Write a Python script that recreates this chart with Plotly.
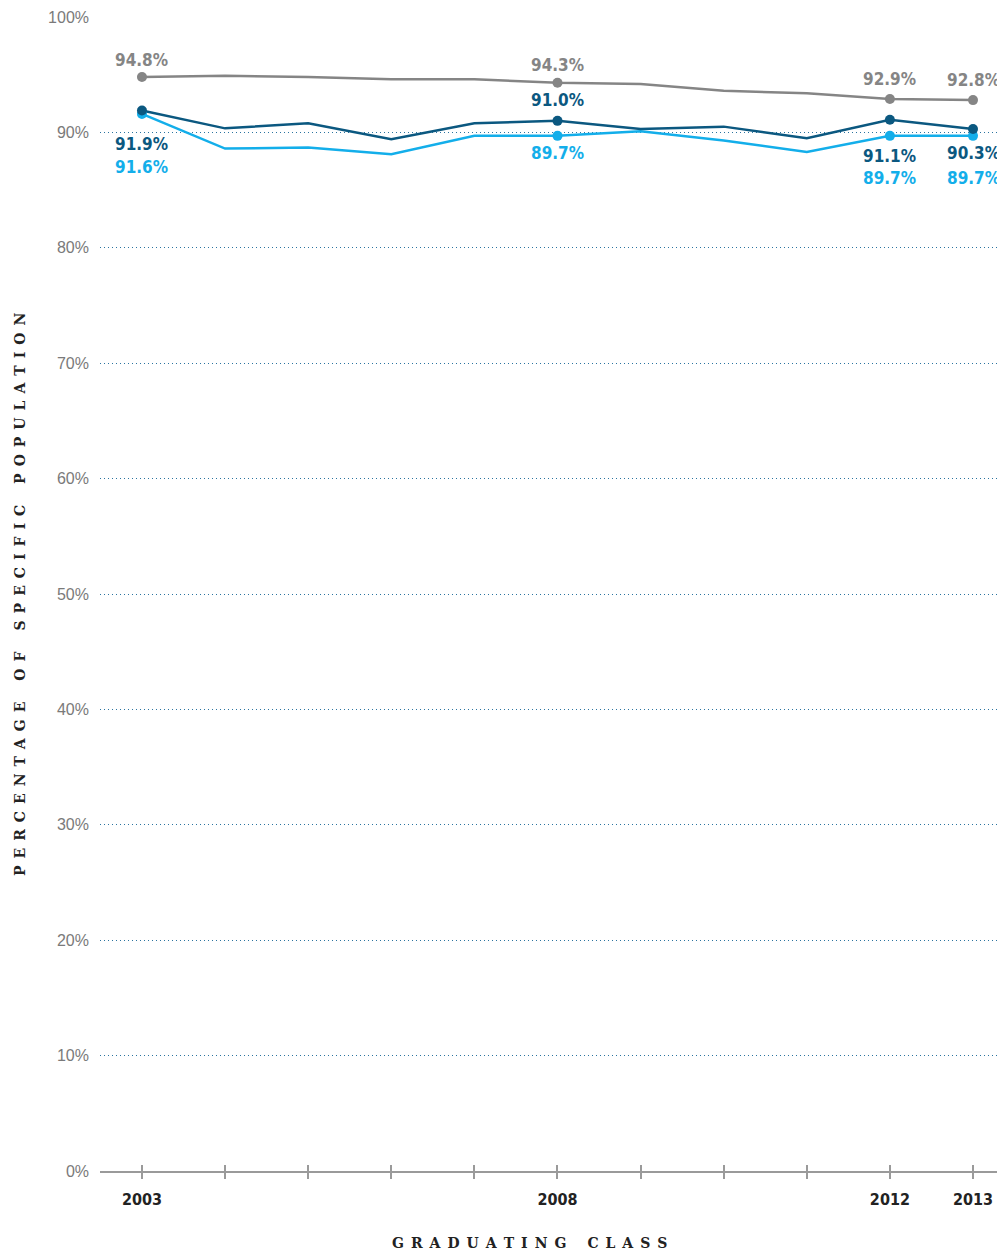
import plotly.graph_objects as go

years = [2003, 2004, 2005, 2006, 2007, 2008, 2009, 2010, 2011, 2012, 2013]
all_students = [94.8, 94.9, 94.8, 94.6, 94.6, 94.3, 94.2, 93.6, 93.4, 92.9, 92.8]
group_dark = [91.9, 90.35, 90.8, 89.4, 90.8, 91.0, 90.3, 90.5, 89.5, 91.1, 90.3]
group_light = [91.6, 88.6, 88.7, 88.1, 89.7, 89.7, 90.1, 89.3, 88.3, 89.7, 89.7]
labeled_years = [2003, 2008, 2012, 2013]
x_tick_text = ["2003", "", "", "", "", "2008", "", "", "", "2012", "2013"]
y_ticks = [0, 10, 20, 30, 40, 50, 60, 70, 80, 90, 100]
y_tick_text = ["0%", "10%", "20%", "30%", "40%", "50%", "60%", "70%", "80%", "90%", "100%"]

GRAY = "#858585"
DARK = "#0b5880"
LIGHT = "#13aeea"

# pixel offsets of value labels relative to their points (style only)
gray_shift = {2003: 17, 2008: 18, 2012: 20, 2013: 20}
dark_shift = {2003: -34, 2008: 21, 2012: -36, 2013: -24}
light_shift = {2003: -53, 2008: -17, 2012: -42, 2013: -42}

fig = go.Figure()
# drawing order: gray, light, dark (dark on top)
series = [(all_students, GRAY, gray_shift), (group_light, LIGHT, light_shift), (group_dark, DARK, dark_shift)]
annotations = []
label_font = "DejaVu Sans Condensed, Liberation Sans Narrow, Roboto"
for vals, col, shifts in series:
    fig.add_trace(go.Scatter(x=years, y=vals, mode="lines",
                             line=dict(color=col, width=2.5), hoverinfo="skip", showlegend=False))
for vals, col, shifts in series:
    mx = [y for y in years if y in labeled_years]
    my = [v for y, v in zip(years, vals) if y in labeled_years]
    fig.add_trace(go.Scatter(x=mx, y=my, mode="markers",
                             marker=dict(color=col, size=10), showlegend=False))
    for x, v in zip(mx, my):
        annotations.append(dict(x=x, y=v, xref="x", yref="y", text=f"{v:.1f}%",
                                showarrow=False, yshift=shifts[x],
                                font=dict(family=label_font, size=17, color=col, weight="bold")))

def spaced(s, gap="\u2002", wgap="\u2002\u2002\u2002"):
    return wgap.join(gap.join(list(w)) for w in s.split(" "))

title_font = dict(family="DejaVu Serif", size=14, color="#222222", weight="bold")
annotations.append(dict(x=0.475, y=-0.0624, xref="paper", yref="paper",
                        xanchor="center", yanchor="middle",
                        text=spaced("GRADUATING CLASS"), showarrow=False, font=title_font))
annotations.append(dict(x=-0.0884, y=0.5, xref="paper", yref="paper", textangle=-90,
                        xanchor="center", yanchor="middle",
                        text=spaced("PERCENTAGE OF SPECIFIC POPULATION"), showarrow=False,
                        font=title_font))

fig.add_trace(go.Scatter(x=[years[0]], y=[0], xaxis="x2", mode="markers",
                         marker=dict(opacity=0), showlegend=False, hoverinfo="skip"))

xrange = [2002.495, 2013.385]
fig.update_layout(
    width=997, height=1243,
    margin=dict(l=92, r=0, t=9, b=80),
    plot_bgcolor="white", paper_bgcolor="white",
    annotations=annotations,
    xaxis=dict(range=xrange, tickmode="array", tickvals=years, ticktext=x_tick_text,
               showgrid=False, zeroline=False,
               showline=True, linecolor="#9a9a9a", linewidth=2,
               ticks="outside", ticklen=6, tickwidth=1.5, tickcolor="#9a9a9a",
               tickfont=dict(family=label_font, size=16, color="#222222", weight="bold"),
               ticklabelstandoff=7),
    xaxis2=dict(range=xrange, overlaying="x", anchor="y", side="bottom",
                tickmode="array", tickvals=years, showticklabels=False,
                showgrid=False, zeroline=False,
                ticks="inside", ticklen=6, tickwidth=1.5, tickcolor="#9a9a9a"),
    yaxis=dict(range=[0, 100], tickmode="array", tickvals=y_ticks, ticktext=y_tick_text,
               showgrid=True, gridcolor="#2b74a0", griddash="1px,3px", gridwidth=1,
               zeroline=False, showline=False,
               tickfont=dict(family="Liberation Sans, Arial", size=16, color="#7a7a7a"),
               ticklabelstandoff=10),
)
fig.write_html("out.html")
